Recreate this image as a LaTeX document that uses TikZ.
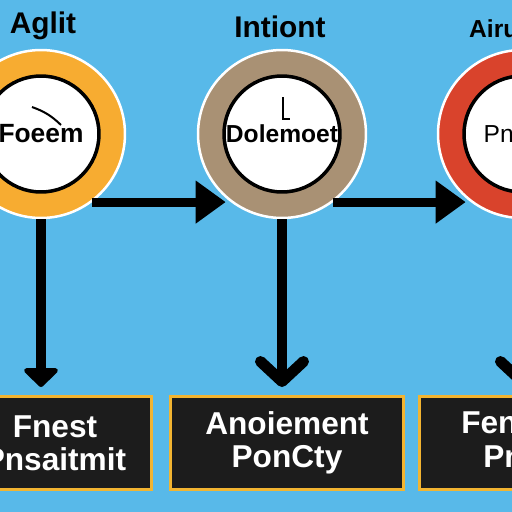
\documentclass[tikz,border=0pt]{standalone}
\usepackage{fontspec}
\setmainfont{Liberation Sans}
\setsansfont{Liberation Sans}
\usetikzlibrary{arrows.meta}
\definecolor{sky}{HTML}{58B9E9}
\definecolor{amber}{HTML}{F7AC31}
\definecolor{khaki}{HTML}{A99174}
\definecolor{brick}{HTML}{D9432C}
\definecolor{coal}{HTML}{1C1C1C}
\definecolor{gold}{HTML}{F2B431}

\begin{document}
\begin{tikzpicture}[x=0.02cm,y=-0.02cm,font=\sffamily\bfseries,
  ring/.style={circle,draw=white,line width=0.05cm,minimum size=3.36cm,inner sep=0pt},
  face/.style={circle,draw=black,fill=white,line width=0.07cm,minimum size=2.32cm,inner sep=0pt,font=\sffamily\bfseries\fontsize{14}{16}\selectfont},
  title/.style={font=\sffamily\bfseries\fontsize{17}{19}\selectfont},
  panel/.style={draw=gold,fill=coal,line width=0.06cm,text=white,minimum width=4.66cm,minimum height=1.86cm,align=center,font=\sffamily\bfseries\fontsize{18}{19}\selectfont},
  flow/.style={line width=0.18cm,shorten >=0.1cm,-{Triangle[length=0.6cm,width=0.82cm]}},
  drop/.style={line width=0.22cm,shorten >=0.16cm}]
  \useasboundingbox (0,0) rectangle (512,512);
  \fill[sky] (0,0) rectangle (512,512);

  % circles along the top row
  \node[ring,fill=amber] (c1) at (41,134) {};
  \node[face,font=\sffamily\bfseries\fontsize{15}{17}\selectfont] (f1) at (c1) {Foeem};
  \node[ring,fill=khaki] (c2) at (282,134) {};
  \node[face] (f2) at (c2) {Dolemoet};
  \node[ring,fill=brick] (c3) at (522,134) {};
  \node[face,font=\sffamily\fontsize{14}{16}\selectfont] (f3) at (c3) {Pnimet};
  \draw[line width=0.04cm] (32,107) to[bend left=12] (61,125);
  \draw[line width=0.04cm] (283,97) -- (283,119) -- (290,119);

  \node[title] (t1) at (43,26) {Aglit};
  \node[title] (t2) at (280,27) {Intiont};
  \node[title,font=\sffamily\bfseries\fontsize{14}{16}\selectfont,anchor=west] (t3) at (463,29) {Airu};

  % boxes along the bottom row
  \node[panel,minimum width=3.86cm] (b1) at (55,443) {Fnest\\Pnsaitmit};
  \node[panel] (b2) at (287,443) {Anoiement\\PonCty};
  \node[panel] (b3) at (536,443) {Fenement\\Pnlioty};

  \draw[flow] (c1.-53) -- (c2.-127);
  \draw[flow] (c2.-53) -- (c3.-127);
  \draw[drop,-{Triangle[length=0.4cm,width=0.8cm,round]}] (c1.south) -- (c1.south |- b1.north);
  \draw[drop,-{Straight Barb[length=0.4cm,width=0.86cm,round]}] (c2.south) -- (c2.south |- b2.north);
  \draw[drop,-{Straight Barb[length=0.4cm,width=0.86cm,round]}] (c3.south) -- (c3.south |- b3.north);
\end{tikzpicture}
\end{document}
